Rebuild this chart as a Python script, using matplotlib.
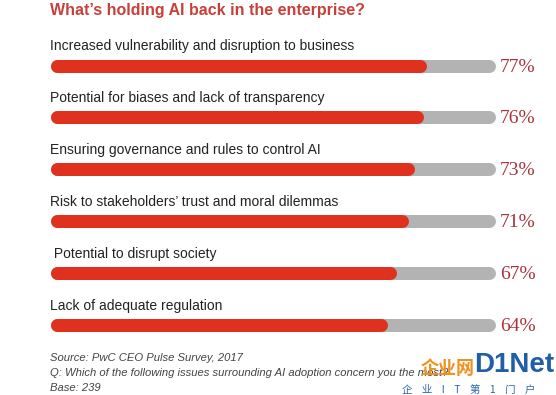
import matplotlib
matplotlib.use("Agg")
import matplotlib.pyplot as plt

TITLE = "What\u2019s holding AI back in the enterprise?"
ISSUES = [
    "Increased vulnerability and disruption to business",
    "Potential for biases and lack of transparency",
    "Ensuring governance and rules to control AI",
    "Risk to stakeholders\u2019 trust and moral dilemmas",
    " Potential to disrupt society",
    "Lack of adequate regulation",
]
SHARES = [77, 76, 73, 71, 67, 64]
NOTES = [
    "Source: PwC CEO Pulse Survey, 2017",
    "Q: Which of the following issues surrounding AI adoption concern you the most?",
    "Base: 239",
]

RED = "#e0301e"
GREY = "#b3b3b3"
DARK_RED = "#a8323a"
TITLE_RED = "#c8403a"

W, H = 556, 395
fig = plt.figure(figsize=(W / 100, H / 100), dpi=100)
ax = fig.add_axes([0, 0, 1, 1])
# x in percent, y in rows; scales chosen so the bars line up with the reference
x0, px = 189.5, 3.0
ax.set_xlim(-x0 / px, (W - x0) / px)
row = 51.9
ax.set_ylim((H - 65.5) / row, -65.5 / row)
ax.axis("off")

start = -44.3
lw = 13 * 72 / 100
for i, (label, v) in enumerate(zip(ISSUES, SHARES)):
    ax.plot([start, 100], [i, i], color=GREY, lw=lw, solid_capstyle="round")
    ax.plot([start, v], [i, i], color=RED, lw=lw, solid_capstyle="round")
    ax.text(-46.5, i - 0.37, label, fontsize=10, color="#222222",
            family="Liberation Sans", va="center", ha="left")
    ax.text(103.5, i + 0.03, f"{v}%", fontsize=14, color=DARK_RED,
            family="Liberation Serif", va="center", ha="left")

fig.text(50 / W, 1 - 10 / H, TITLE, fontsize=11.5, fontweight="bold",
         color=TITLE_RED, family="Liberation Sans", va="center", ha="left")

for k, note in enumerate(NOTES):
    fig.text(50 / W, 1 - (358 + 15 * k) / H, note, fontsize=8.1,
             style="italic", color="#444444", family="Liberation Sans",
             va="center", ha="left")

# watermark
cjk = ["Noto Sans CJK SC", "DejaVu Sans"]
fig.text(421 / W, 1 - 368 / H, "企业网", fontsize=13, fontweight="bold",
         color="#f0901e", family=cjk, va="center", ha="left")
fig.text(474 / W, 1 - 365 / H, "D1Net", fontsize=20, fontweight="bold",
         color="#1f5fa8", family="Liberation Sans", va="center", ha="left")
fig.text(402 / W, 1 - 390 / H, "企    业    I    T    第    1    门    户",
         fontsize=7.5, color="#2a66b0", family=cjk, va="center", ha="left")

fig.savefig("out.png", dpi=100, facecolor="white")
